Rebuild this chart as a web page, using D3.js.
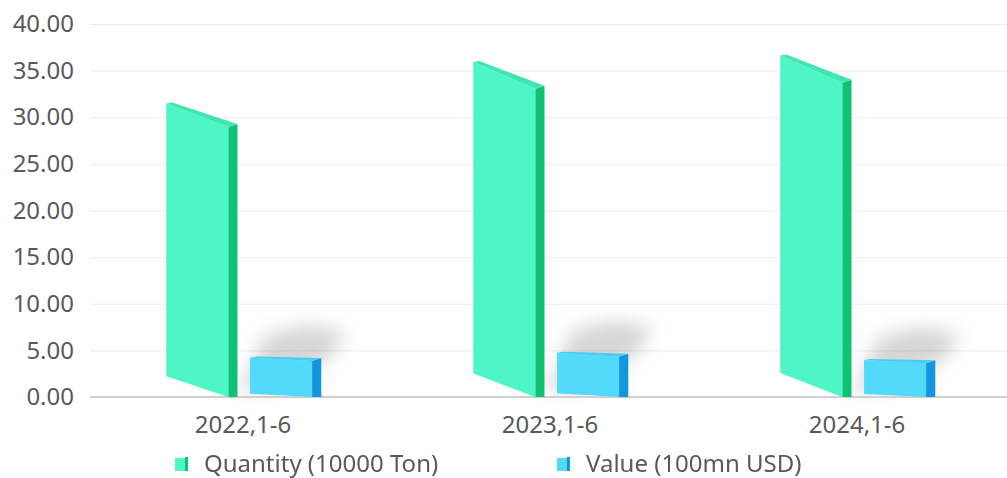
<!DOCTYPE html>
<html>
<head>
<meta charset="utf-8">
<script src="https://cdn.jsdelivr.net/npm/d3@7/dist/d3.min.js"></script>
<style>
  html, body { margin: 0; padding: 0; background: #fff; }
  svg { display: block; font-family: "Noto Sans", "Open Sans", sans-serif; }
</style>
</head>
<body>
<svg id="chart" width="1007" height="478"></svg>
<script>
// Import data, first half of each year
const categories = ["2022,1-6", "2023,1-6", "2024,1-6"];
const quantity = [28.95, 33.05, 33.7];   // 10000 Ton
const value = [3.86, 4.32, 3.61];        // 100mn USD
const yTicks = [0, 5, 10, 15, 20, 25, 30, 35, 40];
const seriesNames = ["Quantity (10000 Ton)", "Value (100mn USD)"];

const W = 1007, H = 478;
const svg = d3.select("#chart");

const x = d3.scaleBand().domain(categories).range([89.5, 1010.5]);
const y = d3.scaleLinear().domain([0, 40]).range([397, 24]);

const styles = [
  { front: "#4ef6c6", side: "#0dc272", top: "#3fe6b3", off: -0.25 },
  { front: "#52dafb", side: "#1496de", top: "#46cdf2", off: 0.023 }
];

const fontSize = "24px";

// soft shadow filter
const defs = svg.append("defs");
defs.append("filter").attr("id", "soft").attr("x", "-50%").attr("y", "-50%")
  .attr("width", "200%").attr("height", "200%")
  .append("feGaussianBlur").attr("stdDeviation", 9);

// gridlines
svg.append("g")
  .attr("transform", "translate(90,0)")
  .call(d3.axisLeft(y).tickValues(yTicks).tickSize(-(W - 90)).tickFormat(""))
  .call(g => g.select(".domain").remove())
  .call(g => g.selectAll(".tick line").attr("stroke", "#ededed").attr("stroke-width", 1));

// y labels
svg.append("g")
  .attr("transform", "translate(84,0)")
  .call(d3.axisLeft(y).tickValues(yTicks).tickSize(0).tickPadding(10).tickFormat(d3.format(".2f")))
  .call(g => g.select(".domain").remove())
  .call(g => g.selectAll("text").attr("fill", "#595959").style("font-size", fontSize)
      .style("font-family", "'Noto Sans', sans-serif"));

// category labels
svg.append("g")
  .attr("transform", "translate(0,397)")
  .call(d3.axisBottom(x).tickSize(0).tickPadding(19))
  .call(g => g.select(".domain").remove())
  .call(g => g.selectAll("text").attr("fill", "#595959").style("font-size", fontSize)
      .style("font-family", "'Noto Sans', sans-serif"));

const bw = x.bandwidth();
const frontW = bw * 0.202;
const sideW = bw * 0.03;
const capRise = 3;

// cast shadows behind the value bars
const shadowG = svg.append("g").attr("filter", "url(#soft)");
categories.forEach((c, i) => {
  const cx = x(c) + bw / 2;
  const y0 = y(0), y1 = y(value[i]);
  const xl = cx + bw * 0.023;
  shadowG.append("path")
    .attr("d", d3.line()([
      [xl - 10, y0 - 4], [xl + 15, y1 - 26], [xl + 55, y1 - 36], [xl + 95, y1 - 30], [xl + 80, y1 - 2], [xl + 10, y0 - 6]
    ]) + "Z")
    .attr("fill", "#000").attr("opacity", 0.16);
});

// axis baseline
svg.append("line").attr("x1", 90).attr("x2", W).attr("y1", y(0)).attr("y2", y(0))
  .attr("stroke", "#cfcfcf").attr("stroke-width", 2);

function drawBar(g, cx, v, st) {
  const y0 = y(0), y1 = y(v);
  const h = y0 - y1;
  const xl = cx + bw * st.off;
  const xr = xl + frontW;
  const xs = xr + sideW;
  const sTop = 0.085 * h + 0.5;  // left edge lift at top
  const sBot = 0.075 * h + 0.5;  // left edge lift at bottom
  // side face
  g.append("path").attr("d", d3.line()([
    [xr, y1], [xs, y1 - capRise], [xs, y0], [xr, y0]
  ]) + "Z").attr("fill", st.side);
  // front face
  g.append("path").attr("d", d3.line()([
    [xl, y1 - sTop], [xr, y1], [xr, y0], [xl, y0 - sBot]
  ]) + "Z").attr("fill", st.front);
  // top cap
  g.append("path").attr("d", d3.line()([
    [xl, y1 - sTop], [xl + 6, y1 - sTop - 1], [xs, y1 - capRise], [xr, y1]
  ]) + "Z").attr("fill", st.top);
}

const barsG = svg.append("g");
categories.forEach((c, i) => {
  const cx = x(c) + bw / 2;
  drawBar(barsG, cx, quantity[i], styles[0]);
  drawBar(barsG, cx, value[i], styles[1]);
});

// legend
const legend = svg.append("g");
const legendPos = [175, 557];
seriesNames.forEach((name, i) => {
  const lx = legendPos[i], ly = 464;
  const st = styles[i];
  legend.append("rect").attr("x", lx).attr("y", ly - 6).attr("width", 10).attr("height", 13).attr("fill", st.front);
  legend.append("rect").attr("x", lx + 10).attr("y", ly - 7).attr("width", 3).attr("height", 14).attr("fill", st.side);
  legend.append("text").attr("x", lx + 29).attr("y", ly).attr("dy", "0.35em")
    .attr("fill", "#595959").style("font-size", fontSize).text(name);
});
</script>
</body>
</html>
